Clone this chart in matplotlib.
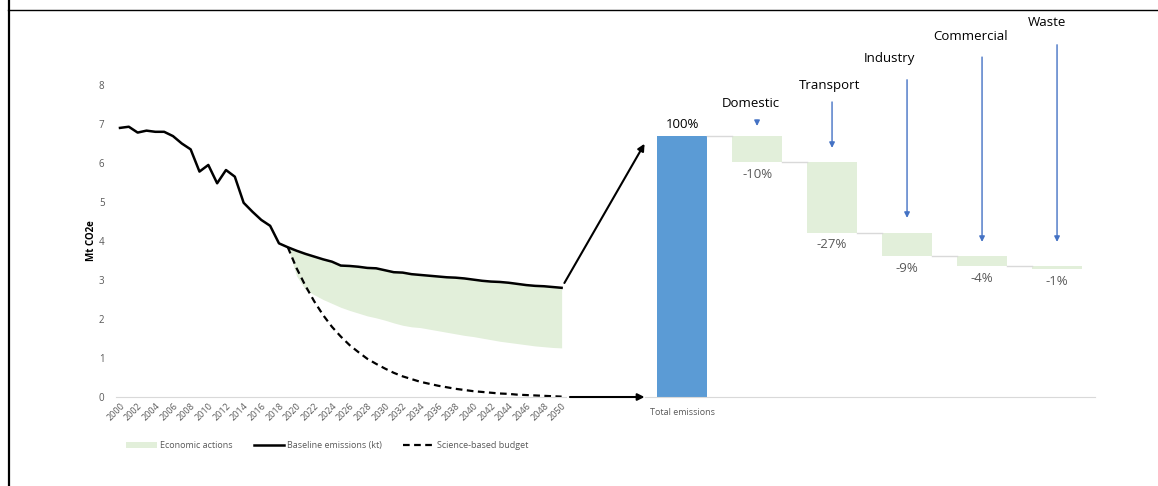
import numpy as np
import matplotlib
matplotlib.use("Agg")
import matplotlib.pyplot as plt
from matplotlib.patches import ConnectionPatch, Patch
from matplotlib.lines import Line2D

plt.rcParams['font.family'] = ['Open Sans', 'DejaVu Sans']

# ---- data ----
years = list(range(2000, 2051))
baseline = [6.90, 6.93, 6.78, 6.83, 6.80, 6.80, 6.69, 6.50, 6.35, 5.78,
            5.95, 5.48, 5.82, 5.65, 4.98, 4.75, 4.54, 4.39, 3.94, 3.84,
            3.75, 3.67, 3.60, 3.53, 3.47, 3.37, 3.36, 3.34, 3.31, 3.30,
            3.25, 3.20, 3.19, 3.15, 3.13, 3.11, 3.09, 3.07, 3.06, 3.04,
            3.01, 2.98, 2.96, 2.95, 2.93, 2.90, 2.87, 2.85, 2.84, 2.82, 2.80]
proj_years = list(range(2019, 2051))
actions_low = [3.84, 3.10, 2.75, 2.62, 2.50, 2.40, 2.30, 2.22, 2.15, 2.08,
               2.03, 1.97, 1.90, 1.84, 1.80, 1.78, 1.74, 1.70, 1.66, 1.62,
               1.58, 1.55, 1.51, 1.47, 1.43, 1.40, 1.37, 1.34, 1.31, 1.29,
               1.27, 1.26]
budget = [3.84, 3.30, 2.85, 2.45, 2.10, 1.80, 1.55, 1.33, 1.15, 0.98,
          0.85, 0.73, 0.62, 0.53, 0.46, 0.39, 0.34, 0.29, 0.25, 0.21,
          0.18, 0.15, 0.13, 0.11, 0.09, 0.08, 0.06, 0.05, 0.04, 0.03,
          0.02, 0.01]

sectors = ["Domestic", "Transport", "Industry", "Commercial", "Waste"]
total_pct = 100
sector_pct = [-10, -27, -9, -4, -1]

# annotation layout (right panel, in % units)
label_y = [112.6, 119.5, 129.5, 137.9, 143.3]
label_dx = [-0.08, -0.04, -0.23, -0.15, -0.13]
arrow_top = [106.0, 113.0, 121.5, 130.2, 134.9]
arrow_tip = [103.8, 95.4, 68.6, 59.4, 59.4]

green = "#e2efda"
blue = "#5b9bd5"
grey_txt = "#595959"
axis_grey = "#d9d9d9"

fig = plt.figure(figsize=(11.58, 4.86), dpi=100)

# ---- left: emissions trajectory ----
ax = fig.add_axes([0.0998, 0.1831, 0.389, 0.642])
ax.fill_between(proj_years, actions_low, baseline[19:], color=green, lw=0,
                label="Economic actions")
ax.plot(years, baseline, color="black", lw=1.8, label="Baseline emissions (kt)")
ax.plot(proj_years, budget, color="black", lw=1.6, ls=(0, (3, 2)),
        label="Science-based budget")
ax.set_xlim(1999.5, 2050.5)
ax.set_ylim(0, 8)
ax.set_xticks(years[::2])
ax.set_xticklabels([str(y) for y in years[::2]], rotation=45, ha="right",
                   rotation_mode="anchor", fontsize=6.5, color=grey_txt)
ax.set_yticks(range(0, 9))
ax.tick_params(axis="y", length=0, labelsize=7, labelcolor=grey_txt, pad=8)
ax.tick_params(axis="x", length=0, pad=3)
for s in ["top", "right", "left"]:
    ax.spines[s].set_visible(False)
ax.spines["bottom"].set_color(axis_grey)
ax.set_ylabel("Mt CO2e", fontsize=7, fontweight="bold", labelpad=1)
ax.legend(loc="upper center", bbox_to_anchor=(0.47, -0.115), ncol=3,
          frameon=False, fontsize=6.5, labelcolor=grey_txt,
          handlelength=3.4, columnspacing=2.3, handletextpad=0.35)

# ---- right: waterfall ----
ax2 = fig.add_axes([0.5566, 0.1831, 0.3886, 0.642])
ax2.bar(0, total_pct, width=0.667, color=blue)
ax2.text(0, total_pct + 2, f"{total_pct}%", ha="center", va="bottom",
         fontsize=9.5, color="black")
running = total_pct
for i, (name, pct) in enumerate(zip(sectors, sector_pct), start=1):
    # connector from previous bar
    ax2.plot([i - 1 + 0.333, i - 0.333], [running, running], color=axis_grey, lw=1)
    new = running + pct
    ax2.bar(i, -pct, bottom=new, width=0.667, color=green)
    ax2.annotate(f"{pct}%", xy=(i, new), xytext=(0, -4), textcoords="offset points",
                 ha="center", va="top", fontsize=9.5, color=grey_txt)
    ax2.text(i + label_dx[i - 1], label_y[i - 1], name, ha="center", va="center",
             fontsize=9.5, color="black", clip_on=False)
    ax2.annotate("", xy=(i, arrow_tip[i - 1]), xytext=(i, arrow_top[i - 1]),
                 arrowprops=dict(arrowstyle="-|>", color="#4472c4", lw=1,
                                 mutation_scale=8, shrinkA=0, shrinkB=0),
                 annotation_clip=False)
    running = new
ax2.set_xlim(-0.5, 5.5)
ax2.set_ylim(0, 119.5)
ax2.set_xticks([0])
ax2.set_xticklabels(["Total emissions"], fontsize=6.5, color=grey_txt)
ax2.tick_params(axis="x", length=0, pad=8)
ax2.set_yticks([])
for s in ["top", "right", "left"]:
    ax2.spines[s].set_visible(False)
ax2.spines["bottom"].set_color(axis_grey)

# ---- linking arrows ----
con1 = ConnectionPatch(xyA=(2050, baseline[-1]), coordsA=ax.transData,
                       xyB=(-0.5, 97), coordsB=ax2.transData,
                       arrowstyle="-|>", lw=1.5, color="black",
                       shrinkA=4, shrinkB=0, mutation_scale=10)
fig.add_artist(con1)
con2 = ConnectionPatch(xyA=(2050, 0), coordsA=ax.transData,
                       xyB=(-0.5, 0), coordsB=ax2.transData,
                       arrowstyle="-|>", lw=1.5, color="black",
                       shrinkA=6, shrinkB=0, mutation_scale=10)
fig.add_artist(con2)

# ---- page frame lines ----
fig.add_artist(Line2D([8.5 / 1158] * 2, [0, 1], transform=fig.transFigure,
                      color="black", lw=1.6))
fig.add_artist(Line2D([8 / 1158, 1], [1 - 10.5 / 486] * 2, transform=fig.transFigure,
                      color="black", lw=1.0))

fig.savefig("out.png", dpi=100)
